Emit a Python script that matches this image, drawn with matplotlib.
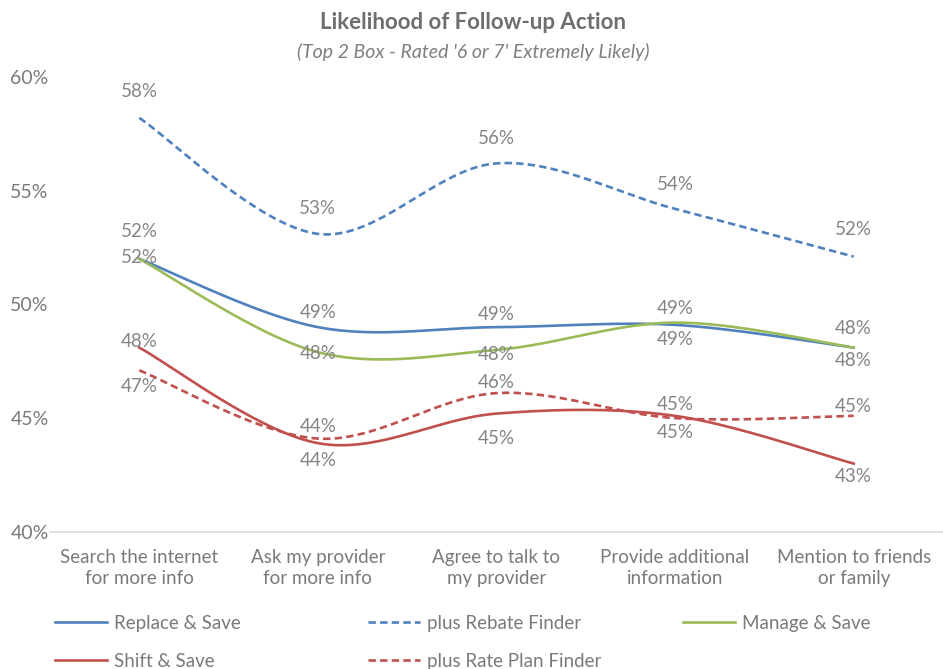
import numpy as np
import matplotlib.pyplot as plt

plt.rcParams['font.family'] = ['Lato', 'DejaVu Sans']

categories = ["Search the internet\nfor more info", "Ask my provider\nfor more info",
              "Agree to talk to\nmy provider", "Provide additional\ninformation",
              "Mention to friends\nor family"]
series_names = ["Replace & Save", "plus Rebate Finder", "Manage & Save",
                "Shift & Save", "plus Rate Plan Finder"]

replace_save = [52.0, 49.0, 49.0, 49.1, 48.1]
rebate_finder = [58.2, 53.1, 56.2, 54.2, 52.1]
manage_save = [52.0, 47.9, 48.0, 49.2, 48.1]
shift_save = [48.1, 43.9, 45.2, 45.1, 43.0]
rate_plan_finder = [47.1, 44.1, 46.1, 45.0, 45.1]

series = [replace_save, rebate_finder, manage_save, shift_save, rate_plan_finder]
colors = ['#4f81bd', '#4f81bd', '#9bbb59', '#c0504d', '#c0504d']
styles = ['-', (0, (2.8, 1.6)), '-', '-', (0, (2.8, 1.6))]
# label offsets in pixels (positive = up)
label_dy = [
    [27, 15, 13, 16, 19],
    [26, 25, 25, 24, 27],
    [1, -1, -5, -17, -13],
    [6, -17, -25, -17, -13],
    [-16, 12, 11, 14, 9],
]

GRAY = '#858585'


def smooth(x, y, n=40):
    # Excel-style smoothed line (Catmull-Rom through the points)
    x = np.asarray(x, float)
    y = np.asarray(y, float)
    P = np.column_stack([x, y])
    P = np.vstack([P[0], P, P[-1]])
    out = []
    t = np.linspace(0, 1, n)[:, None]
    for i in range(1, len(P) - 2):
        p0, p3 = P[i], P[i + 1]
        c1 = p0 + (P[i + 1] - P[i - 1]) / 6
        c2 = p3 - (P[i + 2] - P[i]) / 6
        seg = ((1 - t) ** 3) * p0 + 3 * ((1 - t) ** 2) * t * c1 + 3 * (1 - t) * t ** 2 * c2 + t ** 3 * p3
        out.append(seg)
    out = np.vstack(out)
    return out[:, 0], out[:, 1]


fig = plt.figure(figsize=(9.43, 6.69), dpi=100)
ax = fig.add_axes([0.053, 0.205, 0.947, 0.68])

x = np.arange(len(categories))
lines = []
for vals, c, ls, dys in zip(series, colors, styles, label_dy):
    sx, sy = smooth(x, vals)
    ln, = ax.plot(sx, sy, color=c, lw=1.9, linestyle=ls)
    lines.append(ln)
    for xi, v, dy in zip(x, vals, dys):
        ax.annotate(f"{round(v):.0f}%", (xi, v), xytext=(0, dy), textcoords='offset pixels',
                    ha='center', va='center', color=GRAY, fontsize=13.5)

ax.set_xlim(-0.5, 4.5)
ax.set_ylim(40, 60)
ax.set_yticks([40, 45, 50, 55, 60])
ax.set_yticklabels([f"{v}%" for v in [40, 45, 50, 55, 60]])
ax.set_xticks(x)
ax.set_xticklabels(categories, linespacing=1.35)
ax.tick_params(axis='both', length=0, colors='#7a7a7a', labelsize=13.5)
ax.tick_params(axis='y', pad=1, labelsize=14)
ax.tick_params(axis='x', pad=12)
for s in ['top', 'right', 'left']:
    ax.spines[s].set_visible(False)
ax.spines['bottom'].set_color('#d9d9d9')
ax.spines['bottom'].set_linewidth(1.2)

fig.text(0.502, 0.967, "Likelihood of Follow-up Action", ha='center', va='center',
         fontsize=16, fontweight='bold', color='#6e6e6e')
fig.text(0.502, 0.922, "(Top 2 Box - Rated '6 or 7' Extremely Likely)", ha='center', va='center',
         fontsize=14, style='italic', color='#7f7f7f')

# legend: three columns placed separately
cols = [[0, 3], [1, 4], [2]]
xs = [0.058, 0.390, 0.724]
for idx, xl in zip(cols, xs):
    leg = fig.legend([lines[i] for i in idx], [series_names[i] for i in idx],
                     loc='upper left', bbox_to_anchor=(xl, 0.081), frameon=False,
                     fontsize=13.5, handlelength=2.8, handletextpad=0.37, labelspacing=1.12,
                     borderaxespad=0, borderpad=0)
    for t in leg.get_texts():
        t.set_color('#7a7a7a')

fig.savefig('out.png', dpi=100)
